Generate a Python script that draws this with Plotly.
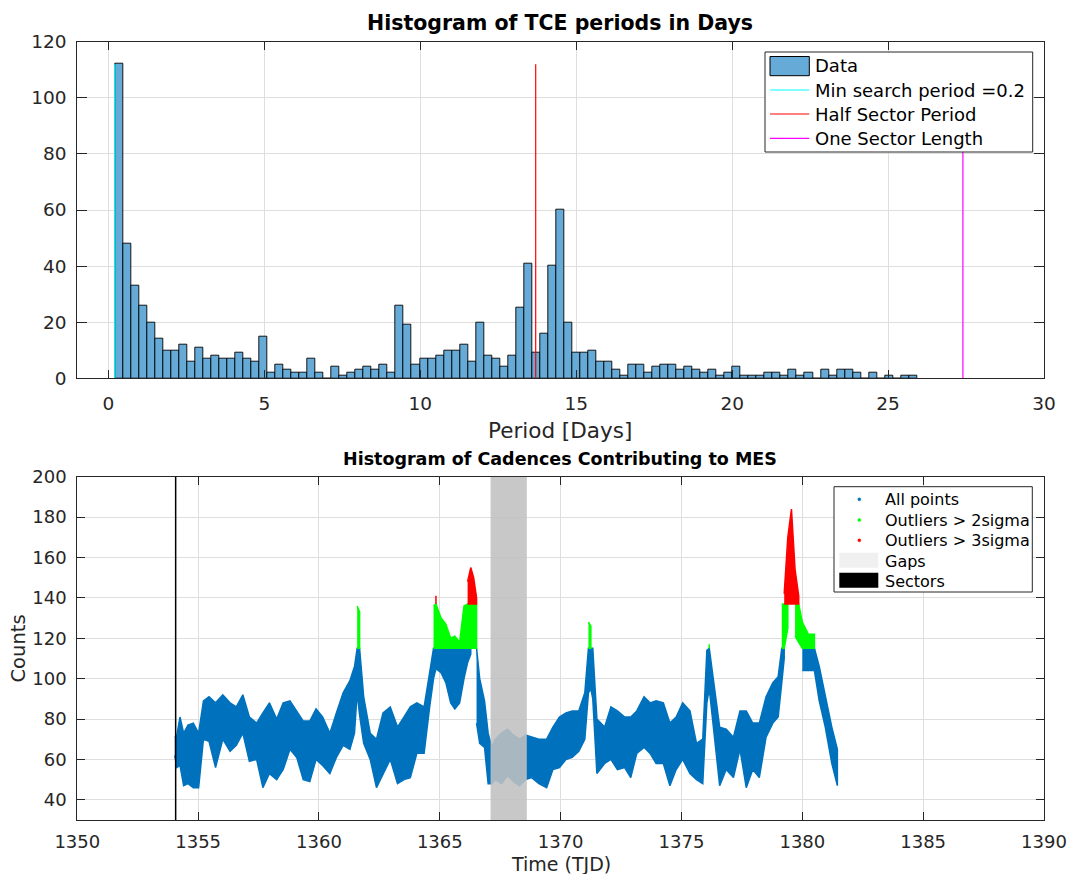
import plotly.graph_objects as go

W, H = 1070, 874
FONT = "DejaVu Sans"
AXC = "#262626"
GRIDC = "#dedede"

# ---------------- Top panel: histogram of TCE periods ----------------
bin_start = 0.21
bin_width = 0.2572
period_counts = [112, 48, 33, 26, 20, 14, 10, 10, 12, 6, 11, 7, 8, 7, 7, 9, 7, 6, 15, 2,
                 5, 3, 2, 2, 7, 2, 0, 4, 1, 2, 3, 4, 3, 5, 2, 26, 19, 5, 7, 7,
                 8, 10, 10, 12, 6, 20, 8, 7, 4, 8, 25, 41, 9, 16, 40, 60, 20, 9, 9, 10,
                 6, 6, 3, 1, 5, 5, 2, 4, 5, 5, 3, 4, 3, 2, 3, 1, 2, 4, 1, 1,
                 1, 2, 2, 1, 3, 1, 2, 0, 3, 1, 3, 3, 2, 0, 2, 0, 1, 0, 1, 1]
period_ticks = [0, 5, 10, 15, 20, 25, 30]
count_ticks = [0, 20, 40, 60, 80, 100, 120]

ref_names = ["Min search period =0.2", "Half Sector Period", "One Sector Length"]
ref_periods = [0.2, 13.7, 27.4]
ref_colors = ["#00ffff", "#ff0000", "#ff00ff"]
ref_top = 112

# ---------------- Bottom panel: cadences contributing to MES ----------------
t_days = [1354.03, 1354.12, 1354.25, 1354.40, 1354.58, 1354.80, 1355.02, 1355.22, 1355.45, 1355.72,
          1356.02, 1356.32, 1356.58, 1356.85, 1357.12, 1357.42, 1357.68, 1357.95, 1358.25, 1358.52,
          1358.80, 1359.08, 1359.35, 1359.62, 1359.88, 1360.15, 1360.45, 1360.72, 1361.00, 1361.28,
          1361.47, 1361.58, 1361.68, 1361.85, 1362.12, 1362.38, 1362.65, 1362.95, 1363.25, 1363.52,
          1363.78, 1364.05, 1364.35, 1364.58, 1364.74, 1364.84, 1365.05, 1365.25, 1365.45, 1365.62,
          1365.82, 1366.00, 1366.15, 1366.28, 1366.40, 1366.52, 1366.65, 1366.85, 1367.00, 1367.15,
          1367.30, 1367.55, 1367.80, 1368.05, 1368.30, 1368.55, 1368.80, 1369.10, 1369.42, 1369.68,
          1369.95, 1370.22, 1370.48, 1370.75, 1371.00, 1371.15, 1371.25, 1371.33, 1371.50, 1371.82,
          1372.08, 1372.35, 1372.65, 1372.90, 1373.15, 1373.45, 1373.70, 1373.95, 1374.25, 1374.52,
          1374.78, 1375.05, 1375.35, 1375.62, 1375.88, 1376.05, 1376.15, 1376.35, 1376.58, 1376.85,
          1377.15, 1377.42, 1377.68, 1377.95, 1378.22, 1378.50, 1378.78, 1379.00, 1379.15, 1379.25,
          1379.40, 1379.55, 1379.70, 1379.85, 1380.00, 1380.25, 1380.50, 1380.70, 1380.95, 1381.22,
          1381.45]
cnt_lo = [62, 56, 57, 47, 48, 46, 46, 70, 69, 56,
          70, 64, 67, 73, 59, 60, 46, 53, 50, 55,
          65, 61, 50, 49, 60, 57, 53, 61, 67, 65,
          73, 93, 82, 68, 60, 46, 53, 60, 48, 50,
          51, 63, 63, 86, 100, 105, 103, 98, 88, 85,
          88, 100, 108, 112, 115, 78, 68, 66, 48, 48,
          50, 48, 52, 49, 47, 50, 51, 48, 46, 55,
          56, 60, 61, 64, 70, 93, 95, 90, 53, 58,
          60, 55, 56, 51, 63, 66, 63, 58, 58, 47,
          55, 60, 53, 50, 48, 88, 95, 71, 47, 55,
          51, 65, 46, 55, 51, 71, 78, 81, 98, 110,
          125, 137, 121, 118, 104, 104, 104, 89, 76, 58,
          47]
cnt_hi = [71, 72, 81, 73, 77, 78, 73, 89, 91, 88,
          92, 88, 86, 92, 81, 78, 83, 88, 80, 88,
          89, 84, 79, 79, 85, 81, 73, 83, 93, 99,
          106, 136, 133, 91, 73, 70, 83, 86, 76, 81,
          86, 88, 86, 103, 136, 141, 130, 127, 120, 121,
          118, 136, 148, 155, 150, 140, 100, 89, 73, 66,
          70, 73, 75, 72, 70, 72, 71, 70, 70, 76,
          81, 83, 84, 84, 93, 128, 126, 115, 80, 76,
          86, 84, 81, 81, 84, 91, 88, 89, 88, 78,
          81, 88, 84, 68, 70, 114, 117, 96, 76, 75,
          71, 84, 84, 78, 78, 91, 98, 101, 137, 142,
          170, 184, 154, 141, 128, 122, 122, 106, 91, 76,
          65]
sigma2_level = 115
sigma3_level = 137
gap_start, gap_end = 1367.1, 1368.6
sector_start = 1354.07
time_ticks = [1350, 1355, 1360, 1365, 1370, 1375, 1380, 1385, 1390]
cad_ticks = [40, 60, 80, 100, 120, 140, 160, 180, 200]


def band(t, lo, hi, a, b):
    """Polygons of the part of the [lo, hi] envelope lying between a and b."""
    xs, ys = [], []
    runs, cur = [], []
    for i in range(len(t)):
        if hi[i] > a and lo[i] < b:
            cur.append(i)
        elif cur:
            runs.append(cur)
            cur = []
    if cur:
        runs.append(cur)
    for r in runs:
        up = [min(max(hi[i], a), b) for i in r]
        dn = [min(max(lo[i], a), b) for i in r]
        xs += [t[i] for i in r] + [t[i] for i in reversed(r)] + [None]
        ys += up + dn[::-1] + [None]
    return xs, ys


fig = go.Figure()

centers = [bin_start + bin_width * (k + 0.5) for k in range(len(period_counts))]
fig.add_trace(go.Bar(x=centers, y=period_counts, width=bin_width,
                     marker=dict(color="rgb(102,170,215)", line=dict(color="rgba(0,0,0,0.9)", width=1)),
                     name="Data", showlegend=False, xaxis="x", yaxis="y"))
for nm, p, c in zip(ref_names, ref_periods, ref_colors):
    fig.add_trace(go.Scatter(x=[p, p], y=[0, ref_top], mode="lines", line=dict(color=c, width=1.2),
                             name=nm, showlegend=False, xaxis="x", yaxis="y"))

for (a, b, col, nm) in [(0, sigma2_level, "#0072bd", "All points"),
                        (sigma2_level, sigma3_level, "#00ff00", "Outliers > 2sigma"),
                        (sigma3_level, 1000, "#ff0000", "Outliers > 3sigma")]:
    xs, ys = band(t_days, cnt_lo, cnt_hi, a, b)
    fig.add_trace(go.Scatter(x=xs, y=ys, mode="lines", fill="toself", fillcolor=col,
                             line=dict(color=col, width=1.5), name=nm, showlegend=False,
                             xaxis="x2", yaxis="y2", hoverinfo="skip"))

shapes = [
    dict(type="rect", xref="x2", yref="y2", x0=gap_start, x1=gap_end, y0=30, y1=200,
         fillcolor="rgb(192,192,192)", opacity=0.88, line=dict(width=0), layer="above"),
    dict(type="line", xref="x2", yref="y2", x0=sector_start, x1=sector_start, y0=30, y1=200,
         line=dict(color="black", width=1.5), layer="above"),
]


def px(x):
    return x / W


def py(y):
    return 1 - y / H


annotations = []


def txt(x, y, s, size, color="#000000", anchor="left", angle=0, bold=False):
    annotations.append(dict(x=px(x), y=py(y), xref="paper", yref="paper", showarrow=False,
                            text=("<b>%s</b>" % s) if bold else s, xanchor=anchor, yanchor="middle",
                            textangle=angle, font=dict(family=FONT, size=size, color=color)))


# titles and axis labels
txt(560, 22.5, "Histogram of TCE periods in Days", 20.5, "#000000", "center", bold=True)
txt(560, 430, "Period [Days]", 21.5, AXC, "center")
txt(560, 459, "Histogram of Cadences Contributing to MES", 17.5, "#000000", "center", bold=True)
txt(561, 864, "Time (TJD)", 19, AXC, "center")
txt(17.5, 649, "Counts", 19.5, AXC, "center", angle=-90)

# top legend
shapes.append(dict(type="rect", xref="paper", yref="paper", x0=px(765), x1=px(1032.7), y0=py(152), y1=py(52),
                   fillcolor="white", line=dict(color=AXC, width=1), layer="above"))
shapes.append(dict(type="rect", xref="paper", yref="paper", x0=px(770), x1=px(809.3), y0=py(75.7), y1=py(56.5),
                   fillcolor="rgb(102,170,215)", line=dict(color="black", width=1), layer="above"))
txt(813, 66, "Data", 18)
for nm, c, yy in zip(ref_names, ref_colors, [90, 114, 138.3]):
    shapes.append(dict(type="line", xref="paper", yref="paper", x0=px(770), x1=px(809.3), y0=py(yy), y1=py(yy),
                       line=dict(color=c, width=1.2), layer="above"))
    txt(813, yy, nm, 18)

# bottom legend
shapes.append(dict(type="rect", xref="paper", yref="paper", x0=px(834), x1=px(1032.3), y0=py(592), y1=py(486.7),
                   fillcolor="white", line=dict(color=AXC, width=1), layer="above"))
for nm, c, yy in zip(["All points", "Outliers > 2sigma", "Outliers > 3sigma"],
                     ["#0072bd", "#00ff00", "#ff0000"], [499.3, 520, 540.3]):
    shapes.append(dict(type="circle", xref="paper", yref="paper", x0=px(857.8), x1=px(860.8),
                       y0=py(yy + 1.5), y1=py(yy - 1.5), fillcolor=c, line=dict(color=c, width=0.5), layer="above"))
    txt(882.7, yy, nm, 16)
shapes.append(dict(type="rect", xref="paper", yref="paper", x0=px(839.3), x1=px(878.3), y0=py(567.7), y1=py(552.7),
                   fillcolor="#f0f0f0", line=dict(width=0), layer="above"))
txt(882.7, 561, "Gaps", 16)
shapes.append(dict(type="rect", xref="paper", yref="paper", x0=px(839.3), x1=px(878.3), y0=py(587.7), y1=py(572.7),
                   fillcolor="black", line=dict(width=0), layer="above"))
txt(882.7, 581, "Sectors", 16)

xdom = [77.3 / W, 1044 / W]
axis_common = dict(showgrid=True, gridcolor=GRIDC, gridwidth=1, showline=True, linecolor=AXC, linewidth=1,
                   mirror="ticks", ticks="inside", tickcolor=AXC, tickwidth=1, zeroline=False,
                   automargin=False)

fig.update_layout(
    template="none",
    width=W, height=H, margin=dict(l=0, r=0, t=0, b=0, pad=0), autosize=False,
    paper_bgcolor="white", plot_bgcolor="white", showlegend=False, bargap=0,
    font=dict(family=FONT, color=AXC),
    xaxis=dict(domain=xdom, range=[-1, 30], tickvals=period_ticks, anchor="y", ticklen=8,
               tickfont=dict(family=FONT, size=18.5, color=AXC), ticklabelstandoff=8, **axis_common),
    yaxis=dict(domain=[1 - 378.3 / H, 1 - 41.7 / H], range=[0, 120], tickvals=count_ticks, anchor="x", ticklen=10,
               tickfont=dict(family=FONT, size=18.5, color=AXC), ticklabelstandoff=6, **axis_common),
    xaxis2=dict(domain=xdom, range=[1350, 1390], tickvals=time_ticks, anchor="y2", ticklen=8,
                tickfont=dict(family=FONT, size=18, color=AXC), ticklabelstandoff=5, **axis_common),
    yaxis2=dict(domain=[1 - 820 / H, 1 - 476.7 / H], range=[30, 200], tickvals=cad_ticks, anchor="x2", ticklen=8,
                tickfont=dict(family=FONT, size=18, color=AXC), ticklabelstandoff=6, **axis_common),
    shapes=shapes, annotations=annotations,
)

fig.write_html("out.html", config={"displayModeBar": False},
               post_script="document.body.style.margin='0px';document.body.style.overflow='hidden';")
